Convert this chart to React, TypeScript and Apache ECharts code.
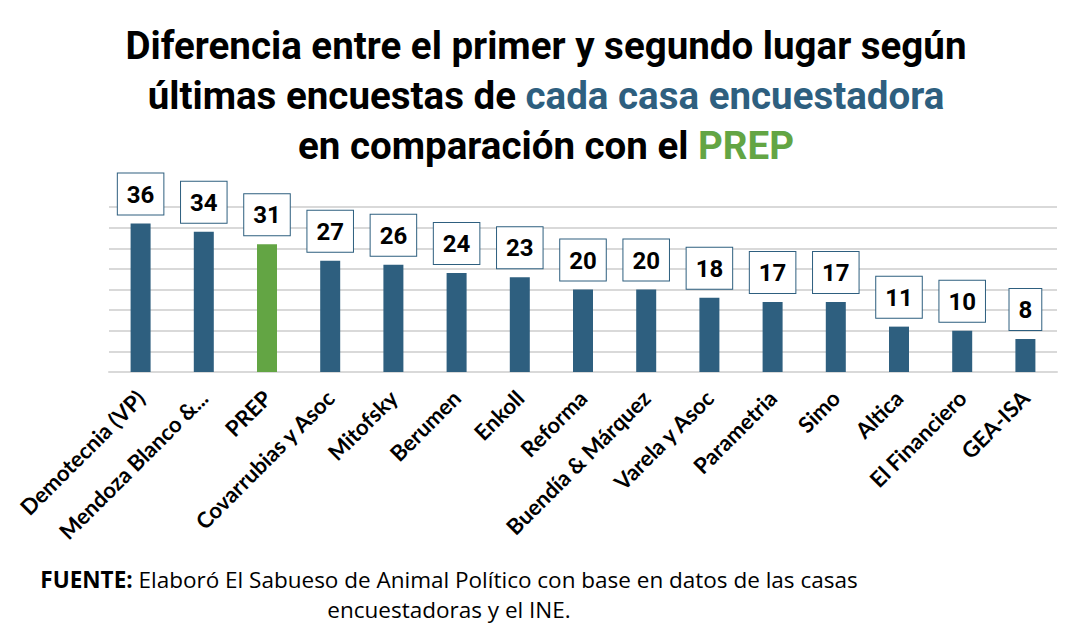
import React, { useEffect, useRef } from "react";
import * as echarts from "echarts";

const categories = [
  "Demotecnia (VP)",
  "Mendoza Blanco &...",
  "PREP",
  "Covarrubias y Asoc",
  "Mitofsky",
  "Berumen",
  "Enkoll",
  "Reforma",
  "Buendía & Márquez",
  "Varela y Asoc",
  "Parametria",
  "Simo",
  "Altica",
  "El Financiero",
  "GEA-ISA",
];
const values = [36, 34, 31, 27, 26, 24, 23, 20, 20, 18, 17, 17, 11, 10, 8];
const highlighted = "PREP";

const BLUE = "#2e5f7f";
const GREEN = "#63a544";

export default function App() {
  const ref = useRef<HTMLDivElement>(null);
  useEffect(() => {
    if (!ref.current) return;
    const chart = echarts.init(ref.current, null, { renderer: "svg" });
    chart.setOption({
      animation: false,
      backgroundColor: "#ffffff",
      title: [
        {
          left: 541,
          top: 15,
          textAlign: "center",
          text:
            "Diferencia entre el primer y segundo lugar según\núltimas encuestas de {b|cada casa encuestadora}\nen comparación con el {g|PREP}",
          textStyle: {
            fontFamily: "Roboto",
            fontWeight: "bold",
            fontSize: 38.5,
            lineHeight: 50,
            color: "#000000",
            rich: {
              b: { fontFamily: "Roboto", fontWeight: "bold", fontSize: 38.5, lineHeight: 50, color: BLUE },
              g: { fontFamily: "Roboto", fontWeight: "bold", fontSize: 38.5, lineHeight: 50, color: GREEN },
            },
          },
        },
        {
          left: 444,
          top: 559,
          textAlign: "center",
          text:
            "{k|FUENTE:} Elaboró El Sabueso de Animal Político con base en datos de las casas\nencuestadoras y el INE.",
          textStyle: {
            fontFamily: "Open Sans",
            fontWeight: "normal",
            fontSize: 22.5,
            lineHeight: 30,
            color: "#000000",
            rich: {
              k: { fontFamily: "Open Sans", fontWeight: "bold", fontSize: 22.5, lineHeight: 30, color: "#000000" },
            },
          },
        },
      ],
      grid: { left: 109, right: 21, top: 207, bottom: 262, containLabel: false },
      xAxis: {
        type: "category",
        data: categories,
        axisLine: { show: true, lineStyle: { color: "#d9d9d9", width: 2 } },
        axisTick: { show: false },
        axisLabel: {
          rotate: 45,
          interval: 0,
          margin: 22,
          fontFamily: "Lato",
          fontWeight: "bold",
          fontSize: 22,
          color: "#000000",
        },
      },
      yAxis: {
        type: "value",
        min: 0,
        max: 40,
        interval: 5,
        axisLabel: { show: false },
        axisLine: { show: false },
        axisTick: { show: false },
        splitLine: { lineStyle: { color: "#d9d9d9", width: 2 } },
      },
      series: [
        {
          type: "bar",
          barWidth: 20,
          data: values.map((v, i) => ({
            value: v,
            itemStyle: { color: categories[i] === highlighted ? GREEN : BLUE },
          })),
          label: {
            show: true,
            position: "top",
            distance: 9,
            fontFamily: "Roboto",
            fontWeight: "bold",
            fontSize: 24,
            color: "#000000",
            backgroundColor: "#ffffff",
            borderColor: BLUE,
            borderWidth: 1,
            padding: [9, 9, 8, 9],
          },
        },
      ],
    });
    return () => chart.dispose();
  }, []);
  return (
    <div
      ref={ref}
      style={{ position: "fixed", left: 0, top: 0, width: 1078, height: 634 }}
    />
  );
}
